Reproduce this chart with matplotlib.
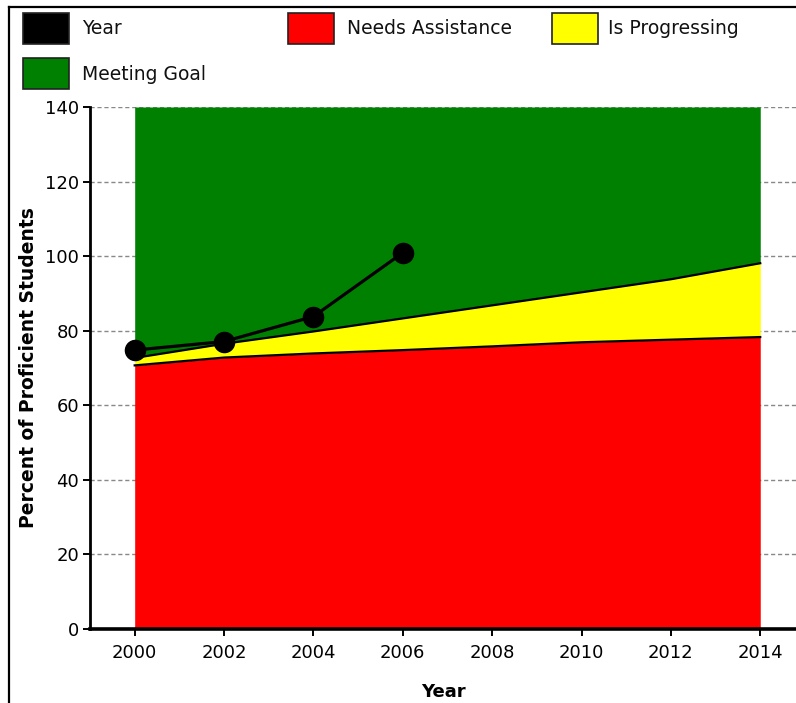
import matplotlib
matplotlib.use("Agg")
import matplotlib.pyplot as plt
from matplotlib.patches import Rectangle
from matplotlib.lines import Line2D

# ---- data ----
years = [2000, 2002, 2004, 2006, 2008, 2010, 2012, 2014]
needs_assistance = [70.7, 72.8, 73.9, 74.8, 75.8, 76.9, 77.6, 78.3]
is_progressing = [2.0, 3.7, 5.9, 8.5, 11.0, 13.4, 16.2, 19.8]
meeting_goal = [67.3, 63.5, 60.2, 56.7, 53.2, 49.7, 46.2, 41.9]

actual_years = [2000, 2002, 2004, 2006]
actual_pct = [74.8, 77.1, 83.8, 100.9]

y_ticks = [0, 20, 40, 60, 80, 100, 120, 140]
x_ticks = [2000, 2002, 2004, 2006, 2008, 2010, 2012, 2014]

legend_labels = ["Year", "Needs Assistance", "Is Progressing", "Meeting Goal"]
legend_colors = ["#000000", "#FF0000", "#FFFF00", "#008000"]

plt.rcParams['font.family'] = ['DejaVu Sans']

W, H = 796, 703
fig = plt.figure(figsize=(W / 100, H / 100), dpi=100)

def fx(px):
    return px / W

def fy(py):
    return 1 - py / H

ax = fig.add_axes([fx(90), fy(629), fx(796) - fx(90), fy(107) - fy(629)])

# stacked areas
lvl1 = needs_assistance
lvl2 = [a + b for a, b in zip(lvl1, is_progressing)]
lvl3 = [a + b for a, b in zip(lvl2, meeting_goal)]
ax.fill_between(years, 0, lvl1, color="#FF0000", linewidth=0, zorder=2)
ax.fill_between(years, lvl1, lvl2, color="#FFFF00", linewidth=0, zorder=2)
ax.fill_between(years, lvl2, lvl3, color="#008000", linewidth=0, zorder=2)
ax.plot(years, lvl1, color="black", linewidth=1.6, zorder=3)
ax.plot(years, lvl2, color="black", linewidth=1.6, zorder=3)

# actual series
ax.plot(actual_years, actual_pct, color="black", linewidth=2.3, marker="o",
        markersize=14.5, zorder=5, clip_on=False)

ax.set_xlim(1999.0, 2014.8)
ax.set_ylim(0, 140)
ax.set_xticks(x_ticks)
ax.set_yticks(y_ticks)
ax.tick_params(axis="both", labelsize=13, colors="black", direction="out")
ax.tick_params(axis="y", length=5, width=1.4, pad=3)
ax.tick_params(axis="x", length=5, width=1.4, pad=6)

ax.grid(axis="y", color="#888888", linestyle=(0, (3, 2)), linewidth=1.0, zorder=1)
ax.set_axisbelow(True)

for s in ["top", "right"]:
    ax.spines[s].set_visible(False)
ax.spines["left"].set_linewidth(2.0)
ax.spines["bottom"].set_linewidth(2.6)

ax.set_xlabel("Year", fontsize=13, fontweight="bold", labelpad=15)
ax.set_ylabel("Percent of Proficient Students", fontsize=13.5, fontweight="bold", labelpad=5)

# legend (manual layout)
boxes = [(23, 13), (288, 13), (552, 13), (23, 58)]
texts_x = [82, 347, 608, 82]
for (bx, by), tx, lab, col in zip(boxes, texts_x, legend_labels, legend_colors):
    fig.patches.append(Rectangle((fx(bx), fy(by + 31)), fx(46), 31 / H,
                                 facecolor=col, edgecolor="#222222", linewidth=1.2,
                                 transform=fig.transFigure, figure=fig))
    fig.text(fx(tx), fy(by + 16), lab, fontsize=13.5, va="center", ha="left", color="#111111")

# figure border (top and left)
fig.lines.append(Line2D([fx(9), 1.0], [fy(7), fy(7)], color="black", linewidth=1.6,
                        transform=fig.transFigure, figure=fig))
fig.lines.append(Line2D([fx(9), fx(9)], [fy(7), 0.0], color="black", linewidth=1.6,
                        transform=fig.transFigure, figure=fig))

fig.savefig("out.png", dpi=100)
